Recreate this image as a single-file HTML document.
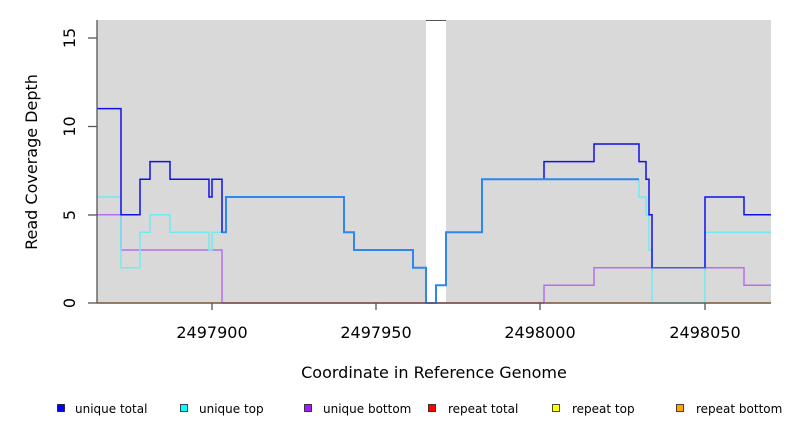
<!DOCTYPE html>
<html><head><style>body{margin:0;background:#fff}svg{display:block;font-family:"DejaVu Sans","Liberation Sans",sans-serif}</style></head><body>
<svg width="792" height="432" viewBox="0 0 792 432">
<rect x="97" y="20" width="674" height="283" fill="#d9d9d9"/>
<rect x="426" y="20" width="20" height="283" fill="#fff"/>
<line x1="426" y1="20.5" x2="446" y2="20.5" stroke="#555" stroke-width="1"/>
<g fill="none" stroke-width="1.5">
<path stroke="#ff8c1a" d="M97 303H771"/>
<path stroke="#d0508a" d="M222 303H544"/>
<path stroke="#b86ef0" d="M97 214.7H121V250H222V303M544 303V285.3H594V267.7H744V285.3H771"/>
<path stroke="#70eaf0" d="M97 197H121V267.7H140V232.3H150V214.7H170V232.3H209V250H212V232.3H222M639 179.3V197H646V214.7H649V250H652V303H705V232.3H771"/>
<path stroke="#1010ee" d="M97 108.6H121V214.7H140V179.3H150V161.6H170V179.3H209V197H212V179.3H222V232.3H226M544 179.3V161.6H594V144H639V161.6H646V179.3H649V214.7H652V267.7H705V197H744V214.7H771"/>
<path stroke="#2e86f0" stroke-width="2" d="M222 232.3H226V197H344V232.3H354V250H413V267.7H426V303H436V285.3H446V232.3H482V179.3H544H639"/>
<path stroke="#4a58e8" d="M652 267.7H705"/>
</g>
<g stroke="#555" stroke-width="1.3">
<line x1="97" y1="20" x2="97" y2="303"/>
<line x1="88" y1="303" x2="97" y2="303"/><line x1="88" y1="215" x2="97" y2="215"/><line x1="88" y1="126.5" x2="97" y2="126.5"/><line x1="88" y1="38" x2="97" y2="38"/>
<line x1="97" y1="303" x2="771" y2="303"/>
<line x1="212" y1="303" x2="212" y2="310"/><line x1="376" y1="303" x2="376" y2="310"/><line x1="540" y1="303" x2="540" y2="310"/><line x1="705" y1="303" x2="705" y2="310"/>
</g>
<g font-size="16" fill="#000" text-anchor="middle">
<text transform="translate(75,303) rotate(-90)">0</text>
<text transform="translate(75,215) rotate(-90)">5</text>
<text transform="translate(75,126.5) rotate(-90)">10</text>
<text transform="translate(75,38) rotate(-90)">15</text>
<text x="212" y="338">2497900</text><text x="376" y="338">2497950</text><text x="540" y="338">2498000</text><text x="705" y="338">2498050</text>
<text x="434" y="378">Coordinate in Reference Genome</text>
<text transform="translate(37,162) rotate(-90)">Read Coverage Depth</text>
</g>
<g font-size="12" fill="#000" stroke="#000" stroke-width="0.7">
<rect x="57.5" y="404.5" width="7" height="7" fill="#0000ff"/><text x="75" y="413" stroke="none">unique total</text>
<rect x="180.5" y="404.5" width="7" height="7" fill="#00ffff"/><text x="199" y="413" stroke="none">unique top</text>
<rect x="304.5" y="404.5" width="7" height="7" fill="#a020f0"/><text x="323" y="413" stroke="none">unique bottom</text>
<rect x="428.5" y="404.5" width="7" height="7" fill="#ff0000"/><text x="448" y="413" stroke="none">repeat total</text>
<rect x="552.5" y="404.5" width="7" height="7" fill="#ffff00"/><text x="572" y="413" stroke="none">repeat top</text>
<rect x="676.5" y="404.5" width="7" height="7" fill="#ffa500"/><text x="696" y="413" stroke="none">repeat bottom</text>
</g>
</svg>
</body></html>
